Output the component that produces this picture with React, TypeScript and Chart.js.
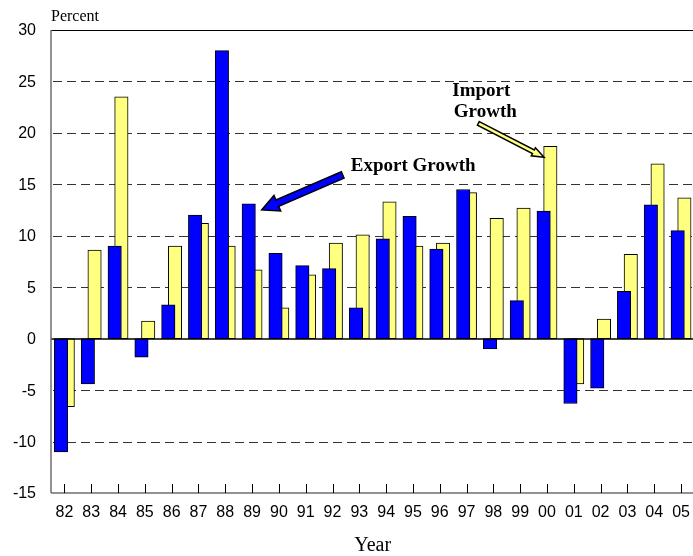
import React, { useEffect, useRef } from "react";
import { Chart, registerables } from "chart.js";

Chart.register(...registerables);

// ---- data ----
const years = ["82", "83", "84", "85", "86", "87", "88", "89", "90", "91", "92", "93", "94", "95", "96", "97", "98", "99", "00", "01", "02", "03", "04", "05"];
const exportGrowth = [-11.0, -4.4, 9.0, -1.8, 3.3, 12.0, 28.0, 13.1, 8.3, 7.1, 6.8, 3.0, 9.7, 11.9, 8.7, 14.5, -1.0, 3.7, 12.4, -6.3, -4.8, 4.6, 13.0, 10.5];
const importGrowth = [-6.6, 8.6, 23.5, 1.7, 9.0, 11.2, 9.0, 6.7, 3.0, 6.2, 9.3, 10.1, 13.3, 9.0, 9.3, 14.2, 11.7, 12.7, 18.7, -4.4, 1.9, 8.2, 17.0, 13.7];
const yMin = -15;
const yMax = 30;
const yStep = 5;
const yAxisLabel = "Percent";
const xAxisLabel = "Year";

// annotation anchors in data space (category index, value)
const annotationTexts = [
  { text: "Export Growth", x: 13.01, y: 16.33 },
  { text: "Import", x: 15.55, y: 23.59 },
  { text: "Growth", x: 15.7, y: 21.57 },
];
const annotationArrows = [
  { from: [10.38, 15.91], to: [7.36, 12.51], fill: "#0000FF", shaft: 7, headW: 17, headL: 17 },
  { from: [15.44, 20.93], to: [17.89, 17.63], fill: "#FFFF80", shaft: 4, headW: 9, headL: 12 },
];

function drawArrow(ctx: CanvasRenderingContext2D, x1: number, y1: number, x2: number, y2: number, shaftW: number, headW: number, headL: number, fill: string) {
  const ang = Math.atan2(y2 - y1, x2 - x1);
  const len = Math.hypot(x2 - x1, y2 - y1);
  ctx.save();
  ctx.translate(x1, y1);
  ctx.rotate(ang);
  ctx.beginPath();
  ctx.moveTo(0, -shaftW / 2);
  ctx.lineTo(len - headL, -shaftW / 2);
  ctx.lineTo(len - headL, -headW / 2);
  ctx.lineTo(len, 0);
  ctx.lineTo(len - headL, headW / 2);
  ctx.lineTo(len - headL, shaftW / 2);
  ctx.lineTo(0, shaftW / 2);
  ctx.closePath();
  ctx.fillStyle = fill;
  ctx.fill();
  ctx.lineWidth = 1.5;
  ctx.strokeStyle = "#000";
  ctx.lineJoin = "miter";
  ctx.stroke();
  ctx.restore();
}

const decorPlugin = {
  id: "decor",
  beforeDatasetsDraw(chart: any) {
    const { ctx, chartArea: a, scales } = chart;
    const y = scales.y;
    ctx.save();
    ctx.strokeStyle = "#333333";
    ctx.lineWidth = 1;
    ctx.setLineDash([9, 5]);
    y.ticks.forEach((t: any) => {
      if (t.value === 0 || t.value === yMax || t.value === yMin) return;
      const py = Math.round(y.getPixelForValue(t.value)) + 0.5;
      ctx.beginPath();
      ctx.moveTo(a.left + 2, py);
      ctx.lineTo(a.right, py);
      ctx.stroke();
    });
    ctx.restore();
  },
  afterDatasetsDraw(chart: any) {
    const { ctx, chartArea: a, scales } = chart;
    const x = scales.x;
    const y = scales.y;
    ctx.save();
    // zero line
    const zy = Math.round(y.getPixelForValue(0));
    ctx.strokeStyle = "#000";
    ctx.lineWidth = 1.5;
    ctx.beginPath();
    ctx.moveTo(a.left, zy);
    ctx.lineTo(a.right, zy);
    ctx.stroke();
    // top border
    ctx.lineWidth = 1.2;
    ctx.beginPath();
    ctx.moveTo(a.left, Math.round(a.top) + 0.5);
    ctx.lineTo(a.right, Math.round(a.top) + 0.5);
    ctx.stroke();
    // bottom axis
    ctx.strokeStyle = "#6e6e6e";
    ctx.lineWidth = 1.5;
    ctx.beginPath();
    ctx.moveTo(a.left, a.bottom);
    ctx.lineTo(a.right, a.bottom);
    ctx.stroke();
    // left axis
    ctx.beginPath();
    ctx.moveTo(a.left, a.top);
    ctx.lineTo(a.left, a.bottom);
    ctx.stroke();
    // x tick marks (inside)
    ctx.strokeStyle = "#000";
    ctx.lineWidth = 1;
    years.forEach((_, i) => {
      const px = Math.round(x.getPixelForValue(i)) + 0.5;
      ctx.beginPath();
      ctx.moveTo(px, a.bottom);
      ctx.lineTo(px, a.bottom - 9);
      ctx.stroke();
    });
    // arrows
    annotationArrows.forEach((ar) => {
      drawArrow(
        ctx,
        x.getPixelForValue(ar.from[0]),
        y.getPixelForValue(ar.from[1]),
        x.getPixelForValue(ar.to[0]),
        y.getPixelForValue(ar.to[1]),
        ar.shaft,
        ar.headW,
        ar.headL,
        ar.fill
      );
    });
    // annotation texts
    ctx.fillStyle = "#000";
    ctx.font = "bold 19px 'Liberation Serif', 'Times New Roman', serif";
    ctx.textAlign = "center";
    ctx.textBaseline = "alphabetic";
    annotationTexts.forEach((t) => {
      ctx.fillText(t.text, x.getPixelForValue(t.x), y.getPixelForValue(t.y));
    });
    // Percent label
    ctx.font = "16px 'Liberation Serif', 'Times New Roman', serif";
    ctx.textAlign = "left";
    ctx.fillText(yAxisLabel, a.left, a.top - 9.5);
    ctx.restore();
  },
};

export default function App() {
  const ref = useRef<HTMLCanvasElement>(null);
  useEffect(() => {
    const sans = "'Liberation Sans', Arial, sans-serif";
    const chart = new Chart(ref.current as HTMLCanvasElement, {
      type: "bar",
      data: {
        labels: years,
        datasets: [
          {
            label: "Export Growth",
            data: exportGrowth,
            backgroundColor: "#0000FF",
            borderColor: "#000",
            borderWidth: 1,
            borderSkipped: false,
            categoryPercentage: 0.5,
            barPercentage: 2,
          },
          {
            label: "Import Growth",
            data: importGrowth,
            backgroundColor: "#FFFF80",
            borderColor: "#000",
            borderWidth: 1,
            borderSkipped: false,
            categoryPercentage: 0.5,
            barPercentage: 2,
          },
        ],
      },
      options: {
        animation: false,
        responsive: false,
        devicePixelRatio: 1,
        layout: { padding: { left: 0, top: 30, right: 3, bottom: 0 } },
        plugins: { legend: { display: false }, tooltip: { enabled: false } },
        scales: {
          x: {
            grid: { display: false, drawTicks: false },
            border: { display: false },
            ticks: { color: "#000", font: { family: sans, size: 16 }, padding: 10, maxRotation: 0, autoSkip: false },
            title: {
              display: true,
              text: xAxisLabel,
              color: "#000",
              font: { family: "'Liberation Serif', 'Times New Roman', serif", size: 20, lineHeight: 1 },
              padding: { top: 0, bottom: 0 },
            },
            afterFit(s: any) {
              s.height = 63;
            },
          },
          y: {
            min: yMin,
            max: yMax,
            grid: { display: false, drawTicks: false },
            border: { display: false },
            ticks: { stepSize: yStep, color: "#000", font: { family: sans, size: 16 }, padding: 15, labelOffset: 1 },
            afterFit(s: any) {
              s.width = 51;
            },
          },
        },
      },
      plugins: [decorPlugin],
    } as any);
    return () => chart.destroy();
  }, []);
  return (
    <div style={{ position: "fixed", left: 0, top: 0, width: 693, height: 556, overflow: "hidden", background: "#fff" }}>
      <canvas ref={ref} width={700} height={556} style={{ display: "block", width: 700, height: 556 }} />
    </div>
  );
}
